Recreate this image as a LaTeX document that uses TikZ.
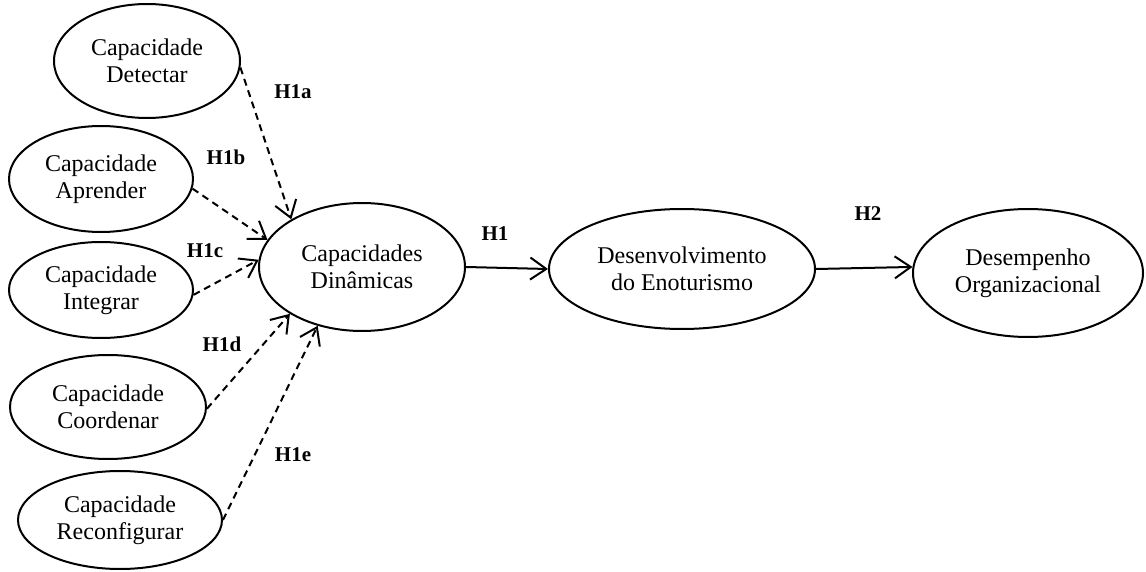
\documentclass[tikz,border=0pt]{standalone}
\usepackage{fontspec}
\setmainfont{Liberation Serif}
\usetikzlibrary{arrows.meta,shapes.geometric}
\begin{document}
\begin{tikzpicture}[x=1pt,y=-1pt,
  construct/.style={draw, ellipse, line width=2pt, inner sep=0pt, align=center,
    font=\fontsize{24}{27}\selectfont},
  hyp/.style={inner sep=0pt, font=\fontsize{21}{24}\selectfont\bfseries},
  link/.style={line width=2pt, -{Straight Barb[length=16pt,width=22pt]}},
  dlink/.style={link, dash pattern=on 7pt off 5pt}]
\useasboundingbox (0,0) rectangle (1146,572);

% first-order capabilities
\node[construct, minimum width=186pt, minimum height=114pt] (det) at (147,61) {Capacidade\\Detectar};
\node[construct, minimum width=184pt, minimum height=106pt] (apr) at (101,179) {Capacidade\\Aprender};
\node[construct, minimum width=184pt, minimum height=96pt] (int) at (101,290) {Capacidade\\Integrar};
\node[construct, minimum width=196pt, minimum height=104pt] (coo) at (108,407) {Capacidade\\Coordenar};
\node[construct, minimum width=204pt, minimum height=98pt] (rec) at (120,520) {Capacidade\\Reconfigurar};

% main constructs
\node[construct, minimum width=206pt, minimum height=128pt] (cd) at (362,267) {Capacidades\\Dinâmicas};
\node[construct, minimum width=266pt, minimum height=120pt] (dev) at (682,269) {Desenvolvimento\\do Enoturismo};
\node[construct, minimum width=230pt, minimum height=128pt] (des) at (1028,273) {Desempenho\\Organizacional};

% hypothesis paths
\draw[dlink] (det.-4) -- (cd.146);
\draw[dlink] (apr.-6) -- (cd.164);
\draw[dlink] (int.-3) -- (cd.176);
\draw[dlink] (coo.-1) -- (cd.213);
\draw[dlink] (rec.0) -- (cd.233);
\draw[link] (cd.east) -- (dev.west);
\draw[link] (dev.east) -- (des.177);

% hypothesis labels
\node[hyp] (h1a) at (293,92) {H1a};
\node[hyp] (h1b) at (226,157) {H1b};
\node[hyp] (h1c) at (205,251) {H1c};
\node[hyp] (h1d) at (222,344) {H1d};
\node[hyp] (h1e) at (293,455) {H1e};
\node[hyp] (h1) at (495,234) {H1};
\node[hyp] (h2) at (868,214) {H2};
\end{tikzpicture}
\end{document}
